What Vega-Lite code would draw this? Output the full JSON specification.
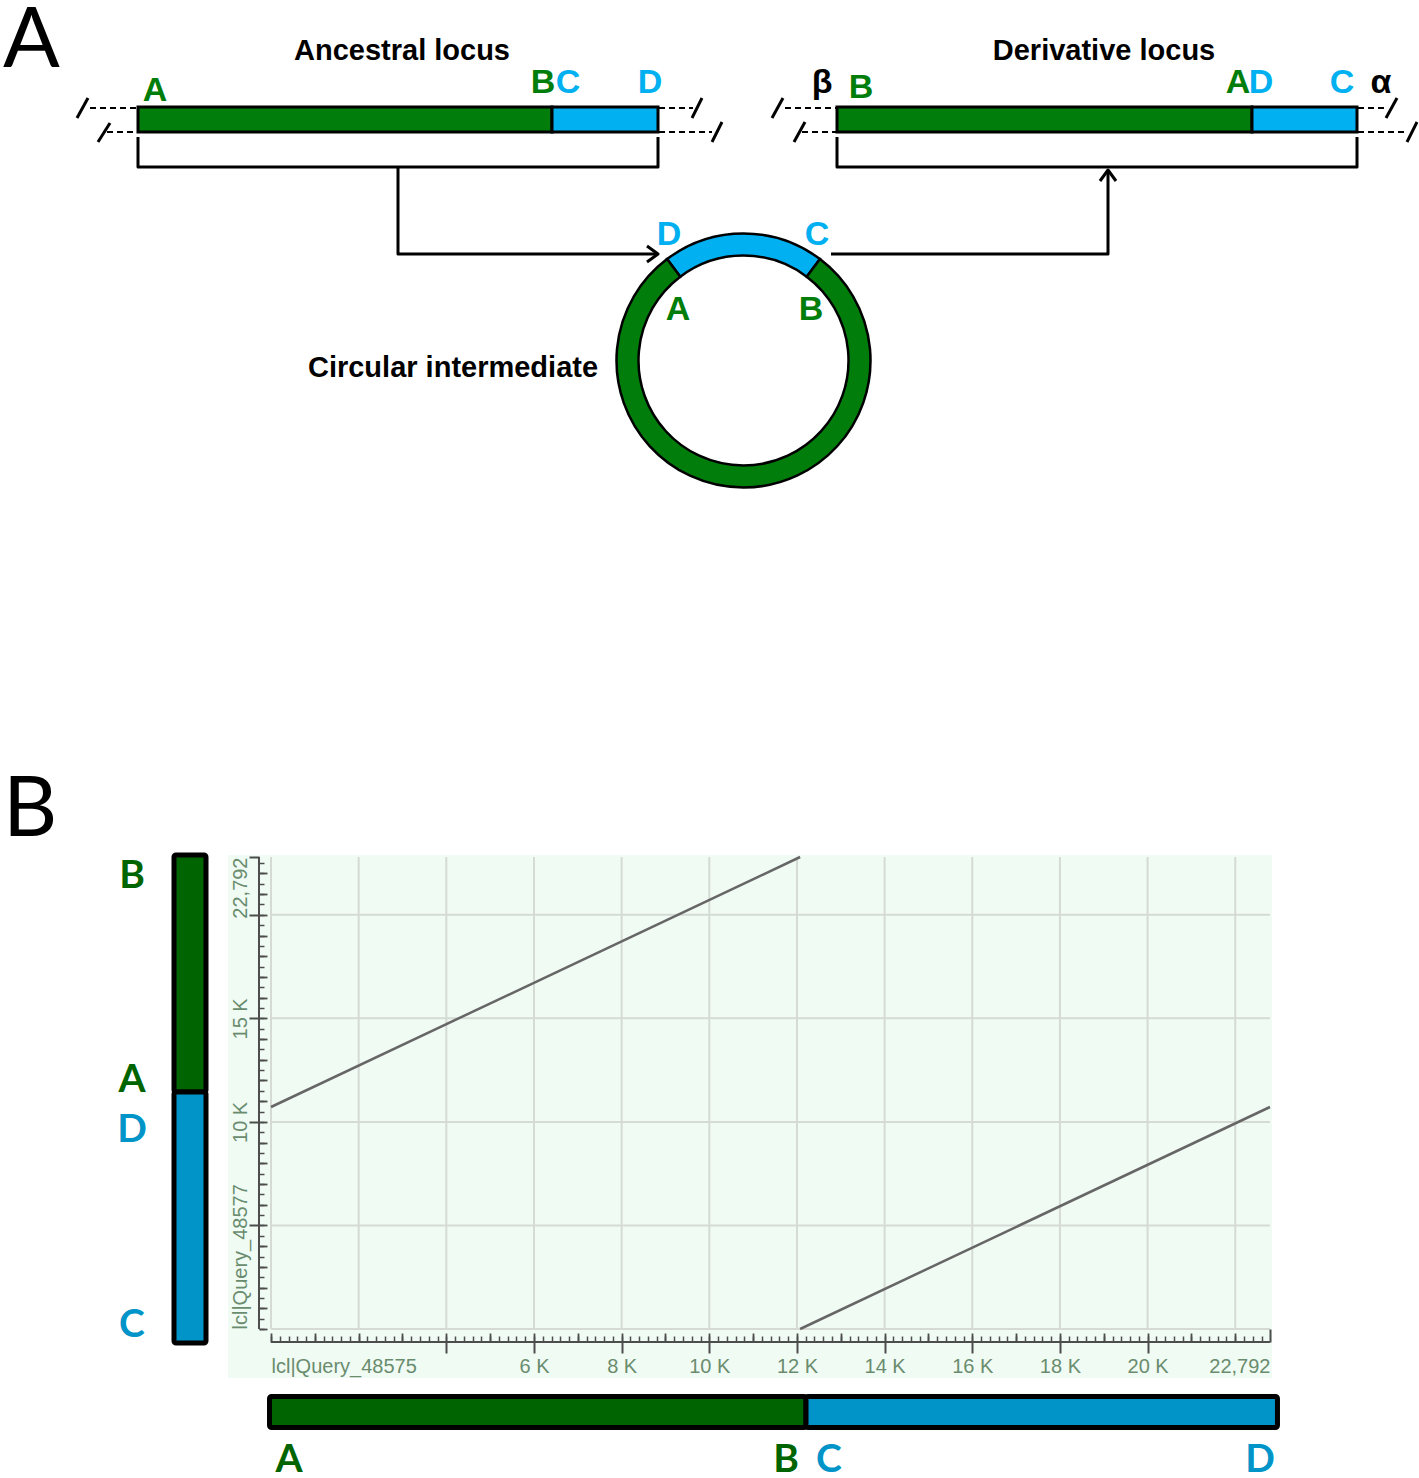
{
  "$schema": "https://vega.github.io/schema/vega-lite/v6.json",
  "padding": 0,
  "background": "white",
  "spacing": 0,
  "bounds": "flush",
  "config": {
    "view": {"stroke": null},
    "axis": {"domain": false, "grid": false, "title": null, "labelOverlap": false, "labelBound": false, "labelFlush": false, "labelFont": "Liberation Sans", "labelFontSize": 20, "labelColor": "#6a8c6e", "tickColor": "#4d4d4d", "tickWidth": 1.5, "zindex": 1}
  },
  "resolve": {"scale": {"color": "independent", "fill": "independent"}},
  "datasets": {
    "barsA": [
      {"locus": "ancestral", "part": "AB", "x0": 138, "x1": 552, "y0": 107, "y1": 132},
      {"locus": "ancestral", "part": "CD", "x0": 552, "x1": 658, "y0": 107, "y1": 132},
      {"locus": "derivative", "part": "AB", "x0": 837, "x1": 1252, "y0": 107, "y1": 132},
      {"locus": "derivative", "part": "CD", "x0": 1252, "x1": 1357, "y0": 107, "y1": 132}
    ],
    "dashA": [
      {"x0": 90, "x1": 137, "y0": 108, "y1": 108},
      {"x0": 107, "x1": 137, "y0": 132, "y1": 132},
      {"x0": 659, "x1": 693, "y0": 108, "y1": 108},
      {"x0": 659, "x1": 712, "y0": 132, "y1": 132},
      {"x0": 785, "x1": 836, "y0": 108, "y1": 108},
      {"x0": 802, "x1": 836, "y0": 132, "y1": 132},
      {"x0": 1358, "x1": 1388, "y0": 108, "y1": 108},
      {"x0": 1358, "x1": 1408, "y0": 132, "y1": 132}
    ],
    "pathsA": [
      {"id": "bracketA", "o": 1, "x": 138, "y": 137},
      {"id": "bracketA", "o": 2, "x": 138, "y": 167},
      {"id": "bracketA", "o": 3, "x": 658, "y": 167},
      {"id": "bracketA", "o": 4, "x": 658, "y": 137},
      {"id": "stemA", "o": 1, "x": 398, "y": 167},
      {"id": "stemA", "o": 2, "x": 398, "y": 254},
      {"id": "stemA", "o": 3, "x": 658, "y": 254},
      {"id": "headA", "o": 1, "x": 647, "y": 246},
      {"id": "headA", "o": 2, "x": 658, "y": 254},
      {"id": "headA", "o": 3, "x": 647, "y": 262},
      {"id": "arrowB", "o": 1, "x": 831, "y": 254},
      {"id": "arrowB", "o": 2, "x": 1108, "y": 254},
      {"id": "arrowB", "o": 3, "x": 1108, "y": 171},
      {"id": "headB", "o": 1, "x": 1100, "y": 181},
      {"id": "headB", "o": 2, "x": 1108, "y": 170},
      {"id": "headB", "o": 3, "x": 1116, "y": 181},
      {"id": "bracketD", "o": 1, "x": 837, "y": 137},
      {"id": "bracketD", "o": 2, "x": 837, "y": 167},
      {"id": "bracketD", "o": 3, "x": 1357, "y": 167},
      {"id": "bracketD", "o": 4, "x": 1357, "y": 137},
      {"id": "s1", "o": 1, "x": 77, "y": 118},
      {"id": "s1", "o": 2, "x": 88, "y": 98},
      {"id": "s2", "o": 1, "x": 98, "y": 142},
      {"id": "s2", "o": 2, "x": 110, "y": 123},
      {"id": "s3", "o": 1, "x": 692, "y": 118},
      {"id": "s3", "o": 2, "x": 702, "y": 98},
      {"id": "s4", "o": 1, "x": 712, "y": 142},
      {"id": "s4", "o": 2, "x": 722, "y": 122},
      {"id": "s5", "o": 1, "x": 772, "y": 118},
      {"id": "s5", "o": 2, "x": 783, "y": 98},
      {"id": "s6", "o": 1, "x": 794, "y": 142},
      {"id": "s6", "o": 2, "x": 805, "y": 122},
      {"id": "s7", "o": 1, "x": 1386, "y": 118},
      {"id": "s7", "o": 2, "x": 1397, "y": 98},
      {"id": "s8", "o": 1, "x": 1407, "y": 142},
      {"id": "s8", "o": 2, "x": 1417, "y": 122}
    ],
    "ringA": [
      {"part": "CD", "start": -0.646, "end": 0.646, "cx": 743.5, "cy": 360.5},
      {"part": "AB", "start": 0.646, "end": 5.637, "cx": 743.5, "cy": 360.5}
    ],
    "textA": [
      {"label": "A", "role": "panel", "part": "flank", "x": 3, "y": 67},
      {"label": "Ancestral locus", "role": "title", "part": "flank", "x": 402, "y": 60},
      {"label": "Derivative locus", "role": "title", "part": "flank", "x": 1104, "y": 60},
      {"label": "Circular intermediate", "role": "title", "part": "flank", "x": 453, "y": 377},
      {"label": "A", "role": "letter", "part": "AB", "x": 155, "y": 101},
      {"label": "B", "role": "letter", "part": "AB", "x": 543, "y": 93},
      {"label": "C", "role": "letter", "part": "CD", "x": 568, "y": 93},
      {"label": "D", "role": "letter", "part": "CD", "x": 650, "y": 93},
      {"label": "β", "role": "letter", "part": "flank", "x": 822, "y": 93},
      {"label": "B", "role": "letter", "part": "AB", "x": 861, "y": 98},
      {"label": "A", "role": "letter", "part": "AB", "x": 1238, "y": 93},
      {"label": "D", "role": "letter", "part": "CD", "x": 1261, "y": 93},
      {"label": "C", "role": "letter", "part": "CD", "x": 1342, "y": 93},
      {"label": "α", "role": "letter", "part": "flank", "x": 1381, "y": 93},
      {"label": "D", "role": "letter", "part": "CD", "x": 669, "y": 245},
      {"label": "C", "role": "letter", "part": "CD", "x": 817, "y": 245},
      {"label": "A", "role": "letter", "part": "AB", "x": 678, "y": 320},
      {"label": "B", "role": "letter", "part": "AB", "x": 811, "y": 320}
    ],
    "bgB": [{"x0": -981, "x1": 22838, "y0": -2366, "y1": 22888}],
    "gridB": [
      {"x0": 0, "x1": 0, "y0": 0, "y1": 22792},
      {"x0": 2000, "x1": 2000, "y0": 0, "y1": 22792},
      {"x0": 4000, "x1": 4000, "y0": 0, "y1": 22792},
      {"x0": 6000, "x1": 6000, "y0": 0, "y1": 22792},
      {"x0": 8000, "x1": 8000, "y0": 0, "y1": 22792},
      {"x0": 10000, "x1": 10000, "y0": 0, "y1": 22792},
      {"x0": 12000, "x1": 12000, "y0": 0, "y1": 22792},
      {"x0": 14000, "x1": 14000, "y0": 0, "y1": 22792},
      {"x0": 16000, "x1": 16000, "y0": 0, "y1": 22792},
      {"x0": 18000, "x1": 18000, "y0": 0, "y1": 22792},
      {"x0": 20000, "x1": 20000, "y0": 0, "y1": 22792},
      {"x0": 22000, "x1": 22000, "y0": 0, "y1": 22792},
      {"x0": 0, "x1": 22792, "y0": 0, "y1": 0},
      {"x0": 0, "x1": 22792, "y0": 5000, "y1": 5000},
      {"x0": 0, "x1": 22792, "y0": 10000, "y1": 10000},
      {"x0": 0, "x1": 22792, "y0": 15000, "y1": 15000},
      {"x0": 0, "x1": 22792, "y0": 20000, "y1": 20000}
    ],
    "axisLinesB": [
      {"x0": 0, "x1": 22792, "y0": -628, "y1": -628},
      {"x0": -274, "x1": -274, "y0": 0, "y1": 22792}
    ],
    "dots": [
      {"seg": "1", "qx": 0, "sy": 10720},
      {"seg": "1", "qx": 12072, "sy": 22792},
      {"seg": "2", "qx": 12072, "sy": 0},
      {"seg": "2", "qx": 22792, "sy": 10720}
    ],
    "barsB": [
      {"seq": "subject", "part": "AB", "x0": -2213, "x1": -1483, "y0": 11444, "y1": 22888},
      {"seq": "subject", "part": "CD", "x0": -2213, "x1": -1483, "y0": -676, "y1": 11444},
      {"seq": "query", "part": "AB", "x0": -34, "x1": 12206, "y0": -4756, "y1": -3259},
      {"seq": "query", "part": "CD", "x0": 12206, "x1": 22963, "y0": -4756, "y1": -3259}
    ],
    "lettersB": [
      {"label": "B", "part": "AB", "x": -3171, "y": 21295},
      {"label": "A", "part": "AB", "x": -3171, "y": 11444},
      {"label": "D", "part": "CD", "x": -3171, "y": 9030},
      {"label": "C", "part": "CD", "x": -3171, "y": -386},
      {"label": "A", "part": "AB", "x": 411, "y": -6905},
      {"label": "B", "part": "AB", "x": 11750, "y": -6905},
      {"label": "C", "part": "CD", "x": 12731, "y": -6905},
      {"label": "D", "part": "CD", "x": 22564, "y": -6905}
    ],
    "panelB": [{"label": "B", "x": -6114, "y": 23806}]
  },
  "vconcat": [
    {
      "width": 1419,
      "height": 740,
      "layer": [
        {
          "data": {"name": "barsA"},
          "mark": {"type": "rect", "stroke": "black", "strokeWidth": 3},
          "encoding": {
            "x": {"field": "x0", "type": "quantitative", "scale": {"domain": [0, 1419], "nice": false, "zero": false}, "axis": null},
            "x2": {"field": "x1"},
            "y": {"field": "y0", "type": "quantitative", "scale": {"domain": [0, 740], "reverse": true, "nice": false, "zero": false}, "axis": null},
            "y2": {"field": "y1"},
            "fill": {"field": "part", "type": "nominal", "scale": {"domain": ["AB", "CD", "flank"], "range": ["#007d0a", "#00b0f0", "#000000"]}, "legend": null}
          }
        },
        {
          "data": {"name": "dashA"},
          "mark": {"type": "rule", "color": "black", "strokeWidth": 2, "strokeDash": [6, 4]},
          "encoding": {
            "x": {"field": "x0", "type": "quantitative", "axis": null},
            "x2": {"field": "x1"},
            "y": {"field": "y0", "type": "quantitative", "axis": null},
            "y2": {"field": "y1"}
          }
        },
        {
          "data": {"name": "pathsA"},
          "mark": {"type": "line", "color": "black", "strokeWidth": 3, "strokeJoin": "round"},
          "encoding": {
            "x": {"field": "x", "type": "quantitative", "axis": null},
            "y": {"field": "y", "type": "quantitative", "axis": null},
            "detail": {"field": "id", "type": "nominal"},
            "order": {"field": "o", "type": "quantitative"}
          }
        },
        {
          "data": {"name": "ringA"},
          "mark": {"type": "arc", "innerRadius": 105, "outerRadius": 127, "stroke": "black", "strokeWidth": 2.5},
          "encoding": {
            "x": {"field": "cx", "type": "quantitative", "axis": null},
            "y": {"field": "cy", "type": "quantitative", "axis": null},
            "theta": {"field": "start", "type": "quantitative", "scale": null, "stack": null},
            "theta2": {"field": "end"},
            "fill": {"field": "part", "type": "nominal", "legend": null}
          }
        },
        {
          "data": {"name": "textA"},
          "transform": [{"filter": "datum.role == 'title'"}],
          "mark": {"type": "text", "font": "Liberation Sans", "fontWeight": "bold", "fontSize": 29, "align": "center", "baseline": "alphabetic", "color": "black"},
          "encoding": {
            "x": {"field": "x", "type": "quantitative", "axis": null},
            "y": {"field": "y", "type": "quantitative", "axis": null},
            "text": {"field": "label"}
          }
        },
        {
          "data": {"name": "textA"},
          "transform": [{"filter": "datum.role == 'letter'"}],
          "mark": {"type": "text", "font": "Liberation Sans", "fontWeight": "bold", "fontSize": 34, "align": "center", "baseline": "alphabetic"},
          "encoding": {
            "x": {"field": "x", "type": "quantitative", "axis": null},
            "y": {"field": "y", "type": "quantitative", "axis": null},
            "text": {"field": "label"},
            "fill": {"field": "part", "type": "nominal", "legend": null}
          }
        },
        {
          "data": {"name": "textA"},
          "transform": [{"filter": "datum.role == 'panel'"}],
          "mark": {"type": "text", "font": "Lato", "fontWeight": "normal", "fontSize": 84, "align": "left", "baseline": "alphabetic", "color": "black"},
          "encoding": {
            "x": {"field": "x", "type": "quantitative", "axis": null},
            "y": {"field": "y", "type": "quantitative", "axis": null},
            "text": {"field": "label"}
          }
        }
      ]
    },
    {
      "width": 1419,
      "height": 738,
      "resolve": {"axis": {"x": "independent", "y": "independent"}},
      "layer": [
        {
          "data": {"name": "bgB"},
          "mark": {"type": "rect", "color": "#f0fbf4"},
          "encoding": {
            "x": {"field": "x0", "type": "quantitative", "scale": {"domain": [-6183, 26192], "nice": false, "zero": false},
              "axis": {"orient": "bottom", "zindex": 2, "offset": -136, "tickCount": 160, "tickSize": -6, "labels": false, "tickOpacity": {"condition": {"test": "datum.value < 0 || datum.value > 22792", "value": 0}, "value": 1}}},
            "x2": {"field": "x1"},
            "y": {"field": "y0", "type": "quantitative", "scale": {"domain": [-7195, 28442], "nice": false, "zero": false},
              "axis": {"orient": "left", "zindex": 2, "offset": -259, "tickCount": 80, "tickSize": -5, "labels": false, "tickOpacity": {"condition": {"test": "datum.value < 0 || datum.value > 22792", "value": 0}, "value": 1}}},
            "y2": {"field": "y1"}
          }
        },
        {
          "data": {"name": "gridB"},
          "mark": {"type": "rule", "color": "#d5dad5", "strokeWidth": 2},
          "encoding": {
            "x": {"field": "x0", "type": "quantitative",
              "axis": {"orient": "bottom", "zindex": 2, "offset": -136, "tickCount": 32, "tickSize": -9, "tickWidth": 1.8, "labels": false, "tickOpacity": {"condition": {"test": "datum.value < 0 || datum.value > 22792", "value": 0}, "value": 1}}},
            "x2": {"field": "x1"},
            "y": {"field": "y0", "type": "quantitative",
              "axis": {"orient": "left", "zindex": 2, "offset": -259, "tickCount": 40, "tickSize": -8, "tickWidth": 1.8, "labels": false, "tickOpacity": {"condition": {"test": "datum.value < 0 || datum.value > 22792", "value": 0}, "value": 1}}},
            "y2": {"field": "y1"}
          }
        },
        {
          "data": {"name": "axisLinesB"},
          "mark": {"type": "rule", "color": "#4d4d4d", "strokeWidth": 2},
          "encoding": {
            "x": {"field": "x0", "type": "quantitative",
              "axis": {"orient": "bottom", "zindex": 2, "offset": -136, "values": [4000, 6000, 8000, 10000, 12000, 14000, 16000, 18000, 20000], "tickSize": 11, "tickWidth": 2, "labels": false}},
            "x2": {"field": "x1"},
            "y": {"field": "y0", "type": "quantitative",
              "axis": {"orient": "left", "zindex": 2, "offset": -259, "values": [5000, 10000, 15000, 20000, 22792], "tickSize": 10, "tickWidth": 2, "labels": false}},
            "y2": {"field": "y1"}
          }
        },
        {
          "data": {"name": "dots"},
          "mark": {"type": "line", "color": "#666666", "strokeWidth": 2.5},
          "encoding": {
            "x": {"field": "qx", "type": "quantitative",
              "axis": {"orient": "bottom", "zindex": 2, "offset": -136, "values": [22792], "tickSize": -13, "tickWidth": 2, "labels": false}},
            "y": {"field": "sy", "type": "quantitative",
              "axis": {"orient": "left", "zindex": 2, "offset": -259, "values": [10000, 15000], "ticks": false, "labelAngle": 270, "labelAlign": "center", "labelBaseline": "bottom", "labelPadding": 9, "labelExpr": "(datum.value / 1000) + ' K'"}},
            "detail": {"field": "seg", "type": "nominal"}
          }
        },
        {
          "data": {"name": "barsB"},
          "mark": {"type": "rect", "stroke": "black", "strokeWidth": 5, "cornerRadius": 2},
          "encoding": {
            "x": {"field": "x0", "type": "quantitative",
              "axis": {"orient": "bottom", "zindex": 2, "offset": -136, "values": [6000, 8000, 10000, 12000, 14000, 16000, 18000, 20000], "ticks": false, "labelPadding": 14, "labelExpr": "(datum.value / 1000) + ' K'"}},
            "x2": {"field": "x1"},
            "y": {"field": "y0", "type": "quantitative",
              "axis": {"orient": "left", "zindex": 2, "offset": -259, "values": [0], "ticks": false, "labelAngle": 270, "labelAlign": "left", "labelBaseline": "bottom", "labelPadding": 9, "labelExpr": "'lcl|Query_48577'"}},
            "y2": {"field": "y1"},
            "fill": {"field": "part", "type": "nominal", "scale": {"domain": ["AB", "CD"], "range": ["#006400", "#0094c8"]}, "legend": null}
          }
        },
        {
          "data": {"name": "lettersB"},
          "mark": {"type": "text", "font": "Lato", "fontWeight": "bold", "fontSize": 39, "align": "center", "baseline": "alphabetic"},
          "encoding": {
            "x": {"field": "x", "type": "quantitative",
              "axis": {"orient": "bottom", "zindex": 2, "offset": -136, "values": [0], "ticks": false, "labelPadding": 14, "labelAlign": "left", "labelExpr": "'lcl|Query_48575'"}},
            "y": {"field": "y", "type": "quantitative",
              "axis": {"orient": "left", "zindex": 2, "offset": -259, "values": [22792], "ticks": false, "labelAngle": 270, "labelAlign": "right", "labelBaseline": "bottom", "labelPadding": 9, "labelExpr": "'22,792'"}},
            "text": {"field": "label"},
            "fill": {"field": "part", "type": "nominal", "legend": null}
          }
        },
        {
          "data": {"name": "panelB"},
          "mark": {"type": "text", "font": "Lato", "fontWeight": "normal", "fontSize": 84, "align": "left", "baseline": "alphabetic", "color": "black"},
          "encoding": {
            "x": {"field": "x", "type": "quantitative",
              "axis": {"orient": "bottom", "zindex": 2, "offset": -136, "values": [22792], "ticks": false, "labelPadding": 14, "labelAlign": "right", "labelExpr": "'22,792'"}},
            "y": {"field": "y", "type": "quantitative", "axis": null},
            "text": {"field": "label"}
          }
        }
      ]
    }
  ]
}
